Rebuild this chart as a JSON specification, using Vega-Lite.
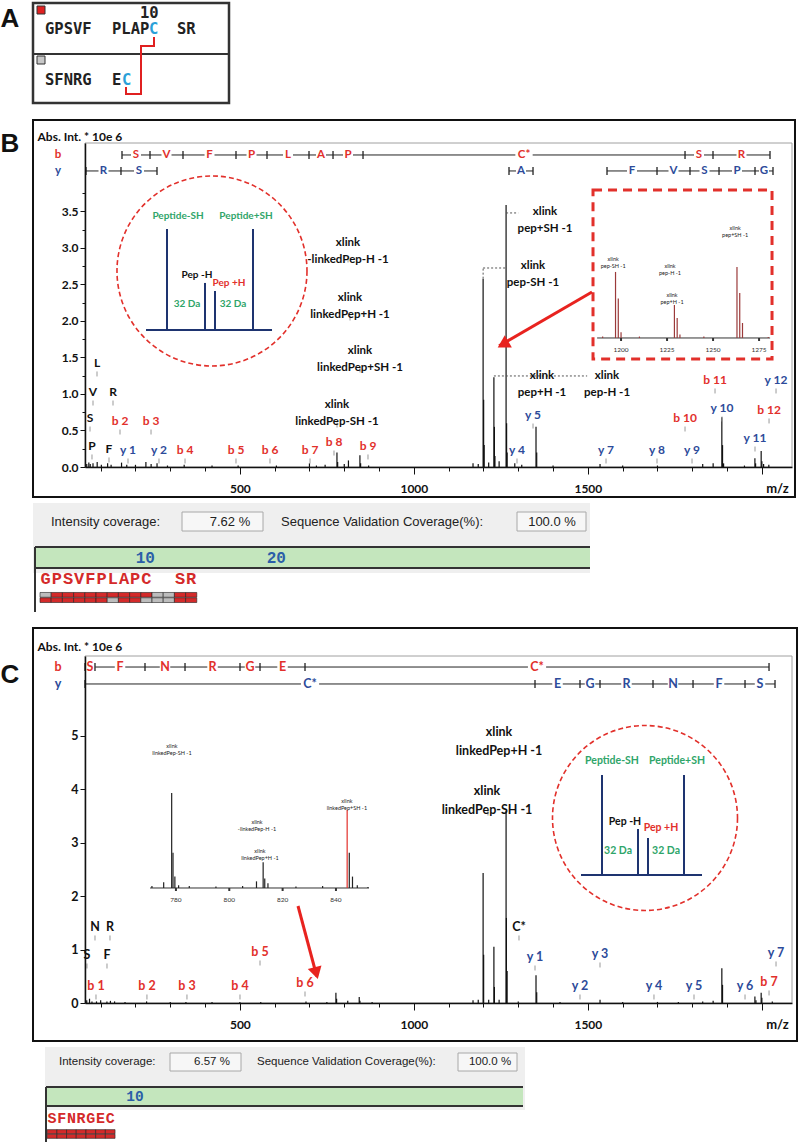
{
"$schema":"https://vega.github.io/schema/vega-lite/v6.json",
"padding":0,
"background":"white",
"spacing":0,
"bounds":"flush",
"resolve":{"scale":{"color":"independent","fill":"independent"}},
"config":{"view":{"stroke":null},"text":{"font":"Lato"}},
"datasets":{
"bPeaks":[{"mz":60,"int":0.04},{"mz":66,"int":0.06},{"mz":70,"int":0.04},{"mz":78,"int":0.05},{"mz":90,"int":0.07},{"mz":102,"int":0.03},{"mz":120,"int":0.05},{"mz":130,"int":0.03},{"mz":160,"int":0.06},{"mz":175,"int":0.03},{"mz":200,"int":0.03},{"mz":230,"int":0.07},{"mz":245,"int":0.04},{"mz":262,"int":0.05},{"mz":292,"int":0.02},{"mz":340,"int":0.03},{"mz":420,"int":0.02},{"mz":495,"int":0.02},{"mz":605,"int":0.02},{"mz":700,"int":0.05},{"mz":720,"int":0.02},{"mz":745,"int":0.03},{"mz":779,"int":0.2},{"mz":781,"int":0.07},{"mz":800,"int":0.04},{"mz":812,"int":0.09},{"mz":845,"int":0.16},{"mz":847,"int":0.05},{"mz":870,"int":0.02},{"mz":1170,"int":0.05},{"mz":1185,"int":0.04},{"mz":1199,"int":2.58},{"mz":1200.5,"int":0.92},{"mz":1202,"int":0.3},{"mz":1215,"int":0.06},{"mz":1230,"int":1.23},{"mz":1231.5,"int":0.55},{"mz":1233,"int":0.15},{"mz":1245,"int":0.08},{"mz":1265,"int":3.59},{"mz":1266.5,"int":0.6},{"mz":1268,"int":0.2},{"mz":1290,"int":0.05},{"mz":1310,"int":0.03},{"mz":1351,"int":0.55},{"mz":1353,"int":0.2},{"mz":1400,"int":0.02},{"mz":1535,"int":0.04},{"mz":1600,"int":0.02},{"mz":1700,"int":0.02},{"mz":1830,"int":0.04},{"mz":1860,"int":0.05},{"mz":1885,"int":0.68},{"mz":1887,"int":0.3},{"mz":1890,"int":0.05},{"mz":1950,"int":0.02},{"mz":1980,"int":0.12},{"mz":1982,"int":0.05},{"mz":1998,"int":0.22},{"mz":2000,"int":0.08},{"mz":2005,"int":0.04},{"mz":2020,"int":0.03}],
"cPeaks":[{"mz":60,"int":0.05},{"mz":68,"int":0.08},{"mz":75,"int":0.03},{"mz":88,"int":0.03},{"mz":100,"int":0.05},{"mz":118,"int":0.03},{"mz":128,"int":0.04},{"mz":140,"int":0.03},{"mz":170,"int":0.02},{"mz":232,"int":0.03},{"mz":300,"int":0.02},{"mz":345,"int":0.02},{"mz":420,"int":0.02},{"mz":500,"int":0.02},{"mz":560,"int":0.02},{"mz":690,"int":0.03},{"mz":750,"int":0.02},{"mz":776,"int":0.19},{"mz":778,"int":0.08},{"mz":810,"int":0.04},{"mz":843,"int":0.11},{"mz":845,"int":0.04},{"mz":880,"int":0.02},{"mz":1170,"int":0.05},{"mz":1185,"int":0.06},{"mz":1199,"int":2.43},{"mz":1200.5,"int":0.9},{"mz":1215,"int":0.06},{"mz":1230,"int":1.05},{"mz":1231.5,"int":0.3},{"mz":1245,"int":0.06},{"mz":1265,"int":3.59},{"mz":1266,"int":1.59},{"mz":1268,"int":0.6},{"mz":1300,"int":0.03},{"mz":1351,"int":0.52},{"mz":1353,"int":0.2},{"mz":1420,"int":0.02},{"mz":1535,"int":0.06},{"mz":1600,"int":0.02},{"mz":1700,"int":0.02},{"mz":1760,"int":0.02},{"mz":1830,"int":0.03},{"mz":1860,"int":0.04},{"mz":1885,"int":0.65},{"mz":1887,"int":0.34},{"mz":1980,"int":0.12},{"mz":1983,"int":0.05},{"mz":1998,"int":0.19},{"mz":2000,"int":0.1},{"mz":2030,"int":0.03}],
"bLadderLine":[{"mz":161.3,"mz2":2023.4,"int":4.274},{"mz":57.9,"mz2":261.9,"int":4.055},{"mz":1273.4,"mz2":1342.4,"int":4.055},{"mz":1555,"mz2":2032,"int":4.055}],
"bLadderTicks":[{"mz":161.3,"int":4.274},{"mz":241.8,"int":4.274},{"mz":336.6,"int":4.274},{"mz":488.9,"int":4.274},{"mz":578,"int":4.274},{"mz":698.7,"int":4.274},{"mz":767.7,"int":4.274},{"mz":853.9,"int":4.274},{"mz":1779.2,"int":4.274},{"mz":1859.6,"int":4.274},{"mz":2023.4,"int":4.274},{"mz":57.9,"int":4.055},{"mz":158.4,"int":4.055},{"mz":261.9,"int":4.055},{"mz":1273.4,"int":4.055},{"mz":1342.4,"int":4.055},{"mz":1555,"int":4.055},{"mz":1698.7,"int":4.055},{"mz":1793.5,"int":4.055},{"mz":1876.9,"int":4.055},{"mz":1980.3,"int":4.055},{"mz":2032,"int":4.055}],
"bLadderText":[{"mz":-22.6,"int":4.274,"text":"b","kind":"b"},{"mz":-22.6,"int":4.055,"text":"y","kind":"y"},{"mz":201.6,"int":4.274,"text":"S","kind":"b"},{"mz":289.2,"int":4.274,"text":"V","kind":"b"},{"mz":412.8,"int":4.274,"text":"F","kind":"b"},{"mz":533.5,"int":4.274,"text":"P","kind":"b"},{"mz":638.4,"int":4.274,"text":"L","kind":"b"},{"mz":733.2,"int":4.274,"text":"A","kind":"b"},{"mz":810.8,"int":4.274,"text":"P","kind":"b"},{"mz":1316.5,"int":4.274,"text":"C*","kind":"b"},{"mz":1819.4,"int":4.274,"text":"S","kind":"b"},{"mz":1941.5,"int":4.274,"text":"R","kind":"b"},{"mz":108.2,"int":4.055,"text":"R","kind":"y"},{"mz":210.2,"int":4.055,"text":"S","kind":"y"},{"mz":1307.9,"int":4.055,"text":"A","kind":"y"},{"mz":1626.9,"int":4.055,"text":"F","kind":"y"},{"mz":1746.1,"int":4.055,"text":"V","kind":"y"},{"mz":1835.2,"int":4.055,"text":"S","kind":"y"},{"mz":1928.6,"int":4.055,"text":"P","kind":"y"},{"mz":2006.2,"int":4.055,"text":"G","kind":"y"}],
"cLadderLine":[{"mz":55,"mz2":2020.6,"int":6.28},{"mz":55,"mz2":2037.8,"int":5.963}],
"cLadderTicks":[{"mz":55,"int":6.28},{"mz":83.7,"int":6.28},{"mz":227.4,"int":6.28},{"mz":342.4,"int":6.28},{"mz":500.4,"int":6.28},{"mz":557.9,"int":6.28},{"mz":687.2,"int":6.28},{"mz":2020.6,"int":6.28},{"mz":55,"int":5.963},{"mz":1348.1,"int":5.963},{"mz":1477.4,"int":5.963},{"mz":1534.9,"int":5.963},{"mz":1687.2,"int":5.963},{"mz":1802.2,"int":5.963},{"mz":1951.6,"int":5.963},{"mz":2037.8,"int":5.963}],
"cLadderText":[{"mz":-22.6,"int":6.28,"text":"b","kind":"b"},{"mz":-22.6,"int":5.963,"text":"y","kind":"y"},{"mz":69.4,"int":6.28,"text":"S","kind":"b"},{"mz":155.6,"int":6.28,"text":"F","kind":"b"},{"mz":284.9,"int":6.28,"text":"N","kind":"b"},{"mz":421.4,"int":6.28,"text":"R","kind":"b"},{"mz":529.2,"int":6.28,"text":"G","kind":"b"},{"mz":622.6,"int":6.28,"text":"E","kind":"b"},{"mz":1353.9,"int":6.28,"text":"C*","kind":"b"},{"mz":701.6,"int":5.963,"text":"C*","kind":"y"},{"mz":1412.8,"int":5.963,"text":"E","kind":"y"},{"mz":1506.2,"int":5.963,"text":"G","kind":"y"},{"mz":1611,"int":5.963,"text":"R","kind":"y"},{"mz":1744.7,"int":5.963,"text":"N","kind":"y"},{"mz":1876.9,"int":5.963,"text":"F","kind":"y"},{"mz":1994.7,"int":5.963,"text":"S","kind":"y"}],
"bIons":[{"mz":89.5,"int":1.425,"text":"L","kind":"imm"},{"mz":78,"int":1.027,"text":"V","kind":"imm"},{"mz":135.5,"int":1.027,"text":"R","kind":"imm"},{"mz":69.4,"int":0.671,"text":"S","kind":"imm"},{"mz":75.1,"int":0.288,"text":"P","kind":"imm"},{"mz":124,"int":0.247,"text":"F","kind":"imm"},{"mz":155.6,"int":0.63,"text":"b 2","kind":"b"},{"mz":244.7,"int":0.63,"text":"b 3","kind":"b"},{"mz":342.4,"int":0.233,"text":"b 4","kind":"b"},{"mz":488.9,"int":0.233,"text":"b 5","kind":"b"},{"mz":586.6,"int":0.233,"text":"b 6","kind":"b"},{"mz":701.6,"int":0.233,"text":"b 7","kind":"b"},{"mz":770.5,"int":0.342,"text":"b 8","kind":"b"},{"mz":868.2,"int":0.288,"text":"b 9","kind":"b"},{"mz":1779.2,"int":0.671,"text":"b 10","kind":"b"},{"mz":1865.4,"int":1.192,"text":"b 11","kind":"b"},{"mz":2020.6,"int":0.781,"text":"b 12","kind":"b"},{"mz":178.6,"int":0.233,"text":"y 1","kind":"y"},{"mz":267.6,"int":0.233,"text":"y 2","kind":"y"},{"mz":1296.4,"int":0.233,"text":"y 4","kind":"y"},{"mz":1342.4,"int":0.712,"text":"y 5","kind":"y"},{"mz":1552.2,"int":0.233,"text":"y 7","kind":"y"},{"mz":1698.7,"int":0.233,"text":"y 8","kind":"y"},{"mz":1799.3,"int":0.233,"text":"y 9","kind":"y"},{"mz":1885.5,"int":0.808,"text":"y 10","kind":"y"},{"mz":1980.3,"int":0.397,"text":"y 11","kind":"y"},{"mz":2040.7,"int":1.192,"text":"y 12","kind":"y"}],
"cIons":[{"mz":60.7,"int":0.897,"text":"S","kind":"imm"},{"mz":83.7,"int":1.421,"text":"N","kind":"imm"},{"mz":126.8,"int":1.421,"text":"R","kind":"imm"},{"mz":118.2,"int":0.897,"text":"F","kind":"imm"},{"mz":1302.1,"int":1.421,"text":"C*","kind":"imm"},{"mz":86.6,"int":0.318,"text":"b 1","kind":"b"},{"mz":233,"int":0.318,"text":"b 2","kind":"b"},{"mz":348,"int":0.318,"text":"b 3","kind":"b"},{"mz":500.4,"int":0.318,"text":"b 4","kind":"b"},{"mz":557.9,"int":0.953,"text":"b 5","kind":"b"},{"mz":687.2,"int":0.374,"text":"b 6","kind":"b"},{"mz":2020.6,"int":0.393,"text":"b 7","kind":"b"},{"mz":1348.1,"int":0.86,"text":"y 1","kind":"y"},{"mz":1477.4,"int":0.318,"text":"y 2","kind":"y"},{"mz":1534.9,"int":0.916,"text":"y 3","kind":"y"},{"mz":1690,"int":0.318,"text":"y 4","kind":"y"},{"mz":1805,"int":0.318,"text":"y 5","kind":"y"},{"mz":1951.6,"int":0.318,"text":"y 6","kind":"y"},{"mz":2040.7,"int":0.935,"text":"y 7","kind":"y"}],
"bXlink":[{"mz":810.8,"int":3.068,"text":"xlink\n-linkedPep-H -1"},{"mz":816.5,"int":2.315,"text":"xlink\nlinkedPep+H -1"},{"mz":845.3,"int":1.589,"text":"xlink\nlinkedPep+SH -1"},{"mz":779.2,"int":0.849,"text":"xlink\nlinkedPep-SH -1"},{"mz":1376.9,"int":3.493,"text":"xlink\npep+SH -1"},{"mz":1342.4,"int":2.753,"text":"xlink\npep-SH -1"},{"mz":1368.3,"int":1.247,"text":"xlink\npep+H -1"},{"mz":1555,"int":1.247,"text":"xlink\npep-H -1"}],
"bInsetTicks":[{"mz":1200,"int":0,"text":"1200"},{"mz":1225,"int":0,"text":"1225"},{"mz":1250,"int":0,"text":"1250"},{"mz":1275,"int":0,"text":"1275"}],
"cInsetTicks":[{"mz":780,"int":0,"text":"780"},{"mz":800,"int":0,"text":"800"},{"mz":820,"int":0,"text":"820"},{"mz":840,"int":0,"text":"840"}],
"bResidues":[{"res":1,"aa":"G","top":"miss","bottom":"hit"},{"res":2,"aa":"P","top":"hit","bottom":"hit"},{"res":3,"aa":"S","top":"hit","bottom":"hit"},{"res":4,"aa":"V","top":"hit","bottom":"hit"},{"res":5,"aa":"F","top":"hit","bottom":"hit"},{"res":6,"aa":"P","top":"hit","bottom":"hit"},{"res":7,"aa":"L","top":"hit","bottom":"miss"},{"res":8,"aa":"A","top":"hit","bottom":"hit"},{"res":9,"aa":"P","top":"hit","bottom":"hit"},{"res":10,"aa":"C","top":"hit","bottom":"miss"},{"res":11,"aa":"","top":"miss","bottom":"miss"},{"res":12,"aa":"","top":"miss","bottom":"miss"},{"res":13,"aa":"S","top":"hit","bottom":"hit"},{"res":14,"aa":"R","top":"hit","bottom":"hit"}],
"cResidues":[{"res":1,"aa":"S","top":"hit","bottom":"hit"},{"res":2,"aa":"F","top":"hit","bottom":"hit"},{"res":3,"aa":"N","top":"hit","bottom":"hit"},{"res":4,"aa":"R","top":"hit","bottom":"hit"},{"res":5,"aa":"G","top":"hit","bottom":"hit"},{"res":6,"aa":"E","top":"hit","bottom":"hit"},{"res":7,"aa":"C","top":"hit","bottom":"hit"}]
},
"vconcat":[
{
"width":707,"height":143,
"encoding":{
"x":{"field":"x","type":"quantitative","scale":{"domain":[85,792],"nice":false,"zero":false},"axis":null},
"y":{"field":"y","type":"quantitative","scale":{"domain":[0,143],"reverse":true,"nice":false,"zero":false},"axis":null}
},
"layer":[
{"data":{"values":[{"x":0,"x2":800,"y":0,"y2":1142}]},"mark":{"type":"rect","fill":"white"},"encoding":{"x2":{"field":"x2"},"y2":{"field":"y2"}}},
{"data":{"values":[{"x":10,"y":19,"text":"A"}]},"mark":{"type":"text","font":"Liberation Sans","fontWeight":"bold","fontSize":26,"fill":"#111"},"encoding":{"text":{"field":"text"}}},
{"data":{"values":[{"x":33,"x2":229,"y":3,"y2":103}]},"mark":{"type":"rect","filled":false,"stroke":"#333","strokeWidth":2.5},"encoding":{"x2":{"field":"x2"},"y2":{"field":"y2"}}},
{"data":{"values":[{"x":33,"x2":229,"y":54}]},"mark":{"type":"rule","stroke":"#333","strokeWidth":2},"encoding":{"x2":{"field":"x2"}}},
{"data":{"values":[{"x":37,"x2":45,"y":6,"y2":14,"chain":"peptide 1"},{"x":37,"x2":45,"y":56,"y2":64,"chain":"peptide 2"}]},"mark":{"type":"rect","stroke":"#333","strokeWidth":1},"encoding":{"x2":{"field":"x2"},"y2":{"field":"y2"},"fill":{"field":"chain","type":"nominal","scale":{"domain":["peptide 1","peptide 2"],"range":["#e02020","#c8c8c8"]},"legend":null}}},
{"data":{"values":[{"x":45,"y":29,"text":"GPSVF","kind":"residue"},{"x":112,"y":29,"text":"PLAP","kind":"residue"},{"x":149,"y":29,"text":"C","kind":"crosslink"},{"x":177,"y":29,"text":"SR","kind":"residue"},{"x":45,"y":80,"text":"SFNRG","kind":"residue"},{"x":112,"y":80,"text":"E","kind":"residue"},{"x":122,"y":80,"text":"C","kind":"crosslink"},{"x":140,"y":13,"text":"10","kind":"residue"}]},"mark":{"type":"text","align":"left","font":"DejaVu Sans Mono","fontWeight":"bold","fontSize":15.5},"encoding":{"text":{"field":"text"},"color":{"field":"kind","type":"nominal","scale":{"domain":["residue","crosslink"],"range":["#222222","#2aa0d8"]},"legend":null}}},
{"data":{"values":[{"x":154,"y":37,"o":1},{"x":154,"y":46,"o":2},{"x":141,"y":46,"o":3},{"x":141,"y":94,"o":4},{"x":126,"y":94,"o":5},{"x":126,"y":87,"o":6}]},"mark":{"type":"line","stroke":"#e02020","strokeWidth":2},"encoding":{"order":{"field":"o","type":"quantitative"}}}
]
},
{
"width":707,"height":324,
"resolve":{"scale":{"x":"independent","y":"independent"}},
"layer":[
{
"encoding":{
"x":{"field":"mz","type":"quantitative","scale":{"domain":[55,2086.6],"nice":false,"zero":false},"axis":{"values":[100,200,300,400,500,600,700,800,900,1000,1100,1200,1300,1400,1500,1600,1700,1800,1900,2000],"format":"d","labelExpr":"datum.value % 500 === 0 && datum.value < 2000 ? datum.label : ''","tickSize":{"condition":{"test":"datum.value % 500 === 0","value":7},"value":4},"labelPadding":9,"labelFont":"Lato","labelFontSize":12,"labelFontWeight":"bold","labelColor":"#111","labelOverlap":false,"labelFlush":false,"domainColor":"#111","domainWidth":1.5,"tickColor":"#111","grid":false,"zindex":1,"title":"m/z","titleX":692,"titleY":21,"titleAlign":"center","titleBaseline":"middle","titleFont":"Lato","titleFontSize":13,"titleFontWeight":"bold","titleColor":"#111"}},
"y":{"field":"int","type":"quantitative","scale":{"domain":[0,4.438],"nice":false,"zero":false},"axis":{"values":[0,0.25,0.5,0.75,1,1.25,1.5,1.75,2,2.25,2.5,2.75,3,3.25,3.5,3.75],"format":".1f","labelExpr":"(datum.value * 2) % 1 === 0 && datum.value <= 3.5 ? datum.label : ''","tickSize":{"condition":{"test":"(datum.value * 2) % 1 === 0","value":5},"value":3},"labelPadding":2,"labelFont":"Lato","labelFontSize":12,"labelFontWeight":"bold","labelColor":"#111","labelOverlap":false,"labelFlush":false,"domainColor":"#111","domainWidth":1.5,"tickColor":"#111","grid":false,"zindex":1,"title":"Abs. Int. * 10e 6","titleAngle":0,"titleX":-48,"titleY":-7,"titleAlign":"left","titleBaseline":"middle","titleFont":"Lato","titleFontSize":12,"titleFontWeight":"bold","titleColor":"#111"}}
},
"layer":[
{"data":{"values":[{"mz":-94.4,"mz2":2095.2,"int":4.753,"int2":-0.411}]},"mark":{"type":"rect","filled":false,"stroke":"#111","strokeWidth":2},"encoding":{"x2":{"field":"mz2"},"y2":{"field":"int2"}}},
{"data":{"values":[{"mz":55,"mz2":2086.6,"int":0,"int2":4.438}]},"mark":{"type":"rect","filled":false,"stroke":"#a0a0a0","strokeWidth":1},"encoding":{"x2":{"field":"mz2"},"y2":{"field":"int2"}}},
{"data":{"values":[{"mz":-160.5,"int":4.425,"text":"B"}]},"mark":{"type":"text","font":"Liberation Sans","fontWeight":"bold","fontSize":26,"fill":"#111"},"encoding":{"text":{"field":"text"}}},
{"data":{"values":[{"mz":1514.8,"mz2":2029.2,"int":1.479,"int2":3.795}]},"mark":{"type":"rect","filled":false,"stroke":"#e2302b","strokeWidth":3,"strokeDash":[9,6]},"encoding":{"x2":{"field":"mz2"},"y2":{"field":"int2"}}},
{"data":{"values":[{"mz":419.9,"int":2.685}]},"mark":{"type":"point","shape":"circle","size":36100,"filled":false,"stroke":"#e2302b","strokeWidth":1.6,"strokeDash":[5,3],"opacity":1}},
{"data":{"values":[{"mz":230.3,"mz2":592.4,"int":1.877,"int2":1.877},{"mz":290.6,"mz2":290.6,"int":1.877,"int2":3.26},{"mz":537.8,"mz2":537.8,"int":1.877,"int2":3.26},{"mz":399.8,"mz2":399.8,"int":1.877,"int2":2.521},{"mz":428.6,"mz2":428.6,"int":1.877,"int2":2.411}]},"mark":{"type":"rule","stroke":"#1e3470","strokeWidth":2},"encoding":{"x2":{"field":"mz2"},"y2":{"field":"int2"}}},
{"data":{"values":[{"mz":322.3,"int":3.438,"text":"Peptide-SH","kind":"SH"},{"mz":517.7,"int":3.438,"text":"Peptide+SH","kind":"SH"},{"mz":376.8,"int":2.63,"text":"Pep -H","kind":"pep-H"},{"mz":468.8,"int":2.521,"text":"Pep +H","kind":"pep+H"},{"mz":348.1,"int":2.233,"text":"32 Da","kind":"SH"},{"mz":480.3,"int":2.233,"text":"32 Da","kind":"SH"}]},"mark":{"type":"text","font":"Lato","fontWeight":"bold","fontSize":10},"encoding":{"text":{"field":"text"},"color":{"field":"kind","type":"nominal","scale":{"domain":["b","y","imm","xlink","SH","pep-H","pep+H"],"range":["#e2302b","#2d4b9a","#111111","#111111","#2fa56a","#111111","#e2302b"]},"legend":null}}},
{"data":{"name":"bLadderLine"},"mark":{"type":"rule","stroke":"#222","strokeWidth":1},"encoding":{"x2":{"field":"mz2"}}},
{"data":{"name":"bLadderText"},"mark":{"type":"point","shape":"square","filled":true,"fill":"white","opacity":1},"encoding":{"size":{"condition":{"test":"datum.text === 'C*'","value":300},"value":100}}},
{"data":{"name":"bLadderTicks"},"mark":{"type":"point","shape":"M0,-1L0,1","filled":false,"stroke":"#222","strokeWidth":1.3,"size":64,"opacity":1}},
{"data":{"name":"bLadderText"},"mark":{"type":"text","font":"Lato","fontWeight":"bold","fontSize":11.5},"encoding":{"text":{"field":"text"},"color":{"field":"kind","type":"nominal","scale":{"domain":["b","y","imm","xlink","SH","pep-H","pep+H"],"range":["#e2302b","#2d4b9a","#111111","#111111","#2fa56a","#111111","#e2302b"]},"legend":null}}},
{"data":{"name":"bPeaks"},"mark":{"type":"rule","stroke":"#111","strokeWidth":1.2},"encoding":{"y2":{"datum":0}}},
{"data":{"values":[{"mz":1199,"mz2":1199,"int":2.58,"int2":2.726},{"mz":1199,"mz2":1265,"int":2.726,"int2":2.726},{"mz":1265,"mz2":1300,"int":3.48,"int2":3.48},{"mz":1230,"mz2":1498,"int":1.247,"int2":1.247}]},"mark":{"type":"rule","stroke":"#555","strokeWidth":1,"strokeDash":[2,2]},"encoding":{"x2":{"field":"mz2"},"y2":{"field":"int2"}}},
{"data":{"name":"bIons"},"mark":{"type":"point","shape":"M0,-1L0,1","filled":false,"stroke":"#999","strokeWidth":1,"size":25,"yOffset":11,"opacity":1}},
{"data":{"name":"bIons"},"mark":{"type":"text","font":"Lato","fontWeight":"bold","fontSize":12},"encoding":{"text":{"field":"text"},"color":{"field":"kind","type":"nominal","scale":{"domain":["b","y","imm","xlink","SH","pep-H","pep+H"],"range":["#e2302b","#2d4b9a","#111111","#111111","#2fa56a","#111111","#e2302b"]},"legend":null}}},
{"data":{"values":[{"mz":810.8,"int":2.836},{"mz":816.5,"int":2.041},{"mz":845.3,"int":1.329},{"mz":779.2,"int":0.575}]},"mark":{"type":"point","shape":"M0,-1L0,1","filled":false,"stroke":"#999","strokeWidth":1,"size":25,"opacity":1}},
{"data":{"name":"bXlink"},"mark":{"type":"text","font":"Lato","fontWeight":"bold","fontSize":11.5,"fill":"#111","lineBreak":"\n","lineHeight":17},"encoding":{"text":{"field":"text"}}},
{"data":{"values":[{"mz":1511.9,"mz2":1245,"int":2.397,"int2":1.66}]},"mark":{"type":"rule","stroke":"#e8231f","strokeWidth":3},"encoding":{"x2":{"field":"mz2"},"y2":{"field":"int2"}}},
{"data":{"values":[{"mz":1256.2,"int":1.678}]},"mark":{"type":"point","shape":"triangle-up","filled":true,"fill":"#e8231f","size":200,"angle":240,"opacity":1}}
]
},
{
"encoding":{
"x":{"field":"mz","type":"quantitative","scale":{"domain":[908.7,1292.9],"nice":false,"zero":false},"axis":null},
"y":{"field":"int","type":"quantitative","scale":{"domain":[-179.2,270.8],"nice":false,"zero":false},"axis":null}
},
"layer":[
{"data":{"values":[{"mz":1187,"mz2":1281,"int":0}]},"mark":{"type":"rule","stroke":"#333","strokeWidth":1},"encoding":{"x2":{"field":"mz2"}}},
{"data":{"name":"bInsetTicks"},"mark":{"type":"point","shape":"M0,0L0,1","filled":false,"stroke":"#333","size":36,"opacity":1}},
{"data":{"name":"bInsetTicks"},"mark":{"type":"text","font":"Lato","fontSize":6.5,"dy":12,"fill":"#333"},"encoding":{"text":{"field":"text"}}},
{"data":{"values":[{"mz":1190,"int":2},{"mz":1197,"int":91.7},{"mz":1198.5,"int":55},{"mz":1200,"int":8},{"mz":1210,"int":2},{"mz":1229,"int":45.8},{"mz":1230.5,"int":27.8},{"mz":1232,"int":5},{"mz":1245,"int":2},{"mz":1263,"int":98.6},{"mz":1264.5,"int":62.5},{"mz":1266,"int":20.8},{"mz":1280,"int":1.5}]},"mark":{"type":"rule","stroke":"#9b3a3a","strokeWidth":1.2},"encoding":{"y2":{"datum":0}}},
{"data":{"values":[{"mz":1195.7,"int":109.7,"text":"xlink\npep-SH -1"},{"mz":1226.6,"int":100,"text":"xlink\npep-H -1"},{"mz":1227.7,"int":59.7,"text":"xlink\npep+H -1"},{"mz":1262,"int":152.8,"text":"xlink\npep+SH -1"}]},"mark":{"type":"text","font":"Lato","fontSize":5.5,"fill":"#222","lineBreak":"\n","lineHeight":7},"encoding":{"text":{"field":"text"}}}
]
}
]
},
{
"width":707,"height":189,
"resolve":{"scale":{"x":"independent"}},
"layer":[
{
"encoding":{
"x":{"field":"x","type":"quantitative","scale":{"domain":[85,792],"nice":false,"zero":false},"axis":null},
"y":{"field":"y","type":"quantitative","scale":{"domain":[467,656],"reverse":true,"nice":false,"zero":false},"axis":null}
},
"layer":[
{"data":{"values":[{"x":33,"x2":590,"y":503,"y2":573}]},"mark":{"type":"rect","fill":"#efefef"},"encoding":{"x2":{"field":"x2"},"y2":{"field":"y2"}}},
{"data":{"values":[{"x":182,"x2":263,"y":512,"y2":531},{"x":517,"x2":586,"y":512,"y2":531}]},"mark":{"type":"rect","fill":"#f7f7f7","stroke":"#a8a8a8","strokeWidth":1},"encoding":{"x2":{"field":"x2"},"y2":{"field":"y2"}}},
{"data":{"values":[{"x":51,"y":522,"text":"Intensity coverage:"},{"x":281,"y":522,"text":"Sequence Validation Coverage(%):"}]},"mark":{"type":"text","align":"left","font":"Liberation Sans","fontSize":13,"fill":"#222"},"encoding":{"text":{"field":"text"}}},
{"data":{"values":[{"x":230,"y":522,"text":"7.62 %"},{"x":552,"y":522,"text":"100.0 %"}]},"mark":{"type":"text","align":"center","font":"Liberation Sans","fontSize":13,"fill":"#222"},"encoding":{"text":{"field":"text"}}},
{"data":{"values":[{"x":35,"x2":590,"y":547,"y2":568}]},"mark":{"type":"rect","fill":"#c4e6bd"},"encoding":{"x2":{"field":"x2"},"y2":{"field":"y2"}}},
{"data":{"values":[{"x":35,"x2":590,"y":547},{"x":35,"x2":590,"y":568}]},"mark":{"type":"rule","stroke":"#333","strokeWidth":2},"encoding":{"x2":{"field":"x2"}}},
{"data":{"values":[{"x":35,"y":547,"y2":612}]},"mark":{"type":"rule","stroke":"#333","strokeWidth":2},"encoding":{"y2":{"field":"y2"}}}
]
},
{
"encoding":{
"x":{"field":"res","type":"quantitative","scale":{"domain":[4.518,67.64],"nice":false,"zero":false},"axis":null}
},
"layer":[
{"data":{"values":[{"res":9.9,"text":"10"},{"res":21.6,"text":"20"}]},"mark":{"type":"text","font":"Liberation Mono","fontWeight":"bold","fontSize":16,"fill":"#2b5ea8"},"encoding":{"text":{"field":"text"},"y":{"datum":557.5,"type":"quantitative","scale":{"domain":[467,656],"reverse":true,"nice":false,"zero":false},"axis":null}}},
{"data":{"name":"bResidues"},"mark":{"type":"text","font":"Liberation Mono","fontWeight":"bold","fontSize":17,"fill":"#d42a2a"},"encoding":{"text":{"field":"aa"},"y":{"datum":579,"type":"quantitative","scale":{"domain":[467,656],"reverse":true,"nice":false,"zero":false},"axis":null}}},
{"data":{"name":"bResidues"},"mark":{"type":"point","shape":"M-1,-0.9H1V-0.05H-1Z","filled":true,"stroke":"#222","strokeWidth":0.6,"size":125,"opacity":1},"encoding":{"y":{"datum":597.5,"type":"quantitative","scale":{"domain":[467,656],"reverse":true,"nice":false,"zero":false},"axis":null},"fill":{"field":"top","type":"nominal","scale":{"domain":["hit","miss"],"range":["#d42a2a","#bdbdbd"]},"legend":null}}},
{"data":{"name":"bResidues"},"mark":{"type":"point","shape":"M-1,0.05H1V0.9H-1Z","filled":true,"stroke":"#222","strokeWidth":0.6,"size":125,"opacity":1},"encoding":{"y":{"datum":597.5,"type":"quantitative","scale":{"domain":[467,656],"reverse":true,"nice":false,"zero":false},"axis":null},"fill":{"field":"bottom","type":"nominal","scale":{"domain":["hit","miss"],"range":["#d42a2a","#bdbdbd"]},"legend":null}}}
]
}
]
},
{
"width":707,"height":347,
"resolve":{"scale":{"x":"independent","y":"independent"}},
"layer":[
{
"encoding":{
"x":{"field":"mz","type":"quantitative","scale":{"domain":[55,2086.6],"nice":false,"zero":false},"axis":{"values":[100,200,300,400,500,600,700,800,900,1000,1100,1200,1300,1400,1500,1600,1700,1800,1900,2000],"format":"d","labelExpr":"datum.value % 500 === 0 && datum.value < 2000 ? datum.label : ''","tickSize":{"condition":{"test":"datum.value % 500 === 0","value":7},"value":4},"labelPadding":9,"labelFont":"Lato","labelFontSize":12,"labelFontWeight":"bold","labelColor":"#111","labelOverlap":false,"labelFlush":false,"domainColor":"#111","domainWidth":1.5,"tickColor":"#111","grid":false,"zindex":1,"title":"m/z","titleX":692,"titleY":21,"titleAlign":"center","titleBaseline":"middle","titleFont":"Lato","titleFontSize":13,"titleFontWeight":"bold","titleColor":"#111"}},
"y":{"field":"int","type":"quantitative","scale":{"domain":[0,6.486],"nice":false,"zero":false},"axis":{"values":[0,0.5,1,1.5,2,2.5,3,3.5,4,4.5,5,5.5],"format":"d","labelExpr":"datum.value % 1 === 0 && datum.value <= 5 ? datum.label : ''","tickSize":{"condition":{"test":"datum.value % 1 === 0","value":5},"value":3},"labelPadding":2,"labelFont":"Lato","labelFontSize":12.5,"labelFontWeight":"bold","labelColor":"#111","labelOverlap":false,"labelFlush":false,"domainColor":"#111","domainWidth":1.5,"tickColor":"#111","grid":false,"zindex":1,"title":"Abs. Int. * 10e 6","titleAngle":0,"titleX":-48,"titleY":-10,"titleAlign":"left","titleBaseline":"middle","titleFont":"Lato","titleFontSize":12,"titleFontWeight":"bold","titleColor":"#111"}}
},
"layer":[
{"data":{"values":[{"mz":-94.4,"mz2":2101,"int":7.009,"int2":-0.71}]},"mark":{"type":"rect","filled":false,"stroke":"#111","strokeWidth":2},"encoding":{"x2":{"field":"mz2"},"y2":{"field":"int2"}}},
{"data":{"values":[{"mz":55,"mz2":2086.6,"int":0,"int2":6.486}]},"mark":{"type":"rect","filled":false,"stroke":"#a0a0a0","strokeWidth":1},"encoding":{"x2":{"field":"mz2"},"y2":{"field":"int2"}}},
{"data":{"values":[{"mz":-160.5,"int":6.131,"text":"C"}]},"mark":{"type":"text","font":"Liberation Sans","fontWeight":"bold","fontSize":26,"fill":"#111"},"encoding":{"text":{"field":"text"}}},
{"data":{"values":[{"mz":1664.2,"int":3.458}]},"mark":{"type":"point","shape":"circle","size":34225,"filled":false,"stroke":"#e2302b","strokeWidth":1.6,"strokeDash":[5,3],"opacity":1}},
{"data":{"values":[{"mz":1480.3,"mz2":1828,"int":2.393,"int2":2.393},{"mz":1540.6,"mz2":1540.6,"int":2.393,"int2":4.262},{"mz":1776.2,"mz2":1776.2,"int":2.393,"int2":4.262},{"mz":1644.1,"mz2":1644.1,"int":2.393,"int2":3.252},{"mz":1672.8,"mz2":1672.8,"int":2.393,"int2":3.084}]},"mark":{"type":"rule","stroke":"#1e3470","strokeWidth":2},"encoding":{"x2":{"field":"mz2"},"y2":{"field":"int2"}}},
{"data":{"values":[{"mz":1569.4,"int":4.523,"text":"Peptide-SH","kind":"SH"},{"mz":1756.2,"int":4.523,"text":"Peptide+SH","kind":"SH"},{"mz":1606.7,"int":3.383,"text":"Pep -H","kind":"pep-H"},{"mz":1710.2,"int":3.271,"text":"Pep +H","kind":"pep+H"},{"mz":1586.6,"int":2.841,"text":"32 Da","kind":"SH"},{"mz":1724.6,"int":2.841,"text":"32 Da","kind":"SH"}]},"mark":{"type":"text","font":"Lato","fontWeight":"bold","fontSize":10.5},"encoding":{"text":{"field":"text"},"color":{"field":"kind","type":"nominal","scale":{"domain":["b","y","imm","xlink","SH","pep-H","pep+H"],"range":["#e2302b","#2d4b9a","#111111","#111111","#2fa56a","#111111","#e2302b"]},"legend":null}}},
{"data":{"name":"cLadderLine"},"mark":{"type":"rule","stroke":"#222","strokeWidth":1},"encoding":{"x2":{"field":"mz2"}}},
{"data":{"name":"cLadderText"},"mark":{"type":"point","shape":"square","filled":true,"fill":"white","opacity":1},"encoding":{"size":{"condition":{"test":"datum.text === 'C*'","value":330},"value":110}}},
{"data":{"name":"cLadderTicks"},"mark":{"type":"point","shape":"M0,-1L0,1","filled":false,"stroke":"#222","strokeWidth":1.3,"size":64,"opacity":1}},
{"data":{"name":"cLadderText"},"mark":{"type":"text","font":"Lato","fontWeight":"bold","fontSize":12.5},"encoding":{"text":{"field":"text"},"color":{"field":"kind","type":"nominal","scale":{"domain":["b","y","imm","xlink","SH","pep-H","pep+H"],"range":["#e2302b","#2d4b9a","#111111","#111111","#2fa56a","#111111","#e2302b"]},"legend":null}}},
{"data":{"name":"cPeaks"},"mark":{"type":"rule","stroke":"#111","strokeWidth":1.2},"encoding":{"y2":{"datum":0}}},
{"data":{"name":"cIons"},"mark":{"type":"point","shape":"M0,-1L0,1","filled":false,"stroke":"#999","strokeWidth":1,"size":25,"yOffset":11,"opacity":1}},
{"data":{"name":"cIons"},"mark":{"type":"text","font":"Lato","fontWeight":"bold","fontSize":12.5},"encoding":{"text":{"field":"text"},"color":{"field":"kind","type":"nominal","scale":{"domain":["b","y","imm","xlink","SH","pep-H","pep+H"],"range":["#e2302b","#2d4b9a","#111111","#111111","#2fa56a","#111111","#e2302b"]},"legend":null}}},
{"data":{"values":[{"mz":1244.7,"int":4.692},{"mz":1213,"int":3.551}]},"mark":{"type":"point","shape":"M0,-1L0,1","filled":false,"stroke":"#999","strokeWidth":1,"size":25,"opacity":1}},
{"data":{"values":[{"mz":1244.7,"int":5.065,"text":"xlink\nlinkedPep+H -1"},{"mz":1210.2,"int":3.963,"text":"xlink\nlinkedPep-SH -1"}]},"mark":{"type":"text","font":"Lato","fontWeight":"bold","fontSize":12.5,"fill":"#111","lineBreak":"\n","lineHeight":19},"encoding":{"text":{"field":"text"}}},
{"data":{"values":[{"mz":667.1,"mz2":721,"int":1.813,"int2":0.5}]},"mark":{"type":"rule","stroke":"#e8231f","strokeWidth":3},"encoding":{"x2":{"field":"mz2"},"y2":{"field":"int2"}}},
{"data":{"values":[{"mz":719.4,"int":0.557}]},"mark":{"type":"point","shape":"triangle-up","filled":true,"fill":"#e8231f","size":200,"angle":165,"opacity":1}}
]
},
{
"encoding":{
"x":{"field":"mz","type":"quantitative","scale":{"domain":[745.9,1011],"nice":false,"zero":false},"axis":null},
"y":{"field":"int","type":"quantitative","scale":{"domain":[-121.05,244.2],"nice":false,"zero":false},"axis":null}
},
"layer":[
{"data":{"values":[{"mz":770.3,"mz2":852.4,"int":0}]},"mark":{"type":"rule","stroke":"#333","strokeWidth":1},"encoding":{"x2":{"field":"mz2"}}},
{"data":{"name":"cInsetTicks"},"mark":{"type":"point","shape":"M0,0L0,1","filled":false,"stroke":"#333","size":36,"opacity":1}},
{"data":{"name":"cInsetTicks"},"mark":{"type":"text","font":"Lato","fontSize":6.5,"dy":12,"fill":"#333"},"encoding":{"text":{"field":"text"}}},
{"data":{"values":[{"mz":771,"int":2},{"mz":775.4,"int":6},{"mz":778.4,"int":100},{"mz":778.9,"int":37},{"mz":779.6,"int":12},{"mz":781,"int":3},{"mz":785,"int":2},{"mz":795,"int":1.5},{"mz":805,"int":2},{"mz":810.2,"int":7},{"mz":812.7,"int":27},{"mz":813.3,"int":10},{"mz":814.5,"int":5},{"mz":825,"int":1.5},{"mz":835,"int":2},{"mz":844.2,"int":82},{"mz":845,"int":37},{"mz":846.2,"int":12},{"mz":848,"int":3},{"mz":852,"int":1}]},"mark":{"type":"rule","strokeWidth":1.2},"encoding":{"y2":{"datum":0},"stroke":{"condition":{"test":"datum.mz === 844.2","value":"#e2302b"},"value":"#222"}}},
{"data":{"values":[{"mz":778.5,"int":149.5,"text":"xlink\nlinkedPep-SH -1"},{"mz":810.4,"int":69.5,"text":"xlink\n-linkedPep-H -1"},{"mz":811.5,"int":38.9,"text":"xlink\nlinkedPep+H -1"},{"mz":844.1,"int":91.6,"text":"xlink\nlinkedPep+SH -1"}]},"mark":{"type":"text","font":"Lato","fontSize":5.5,"fill":"#222","lineBreak":"\n","lineHeight":7},"encoding":{"text":{"field":"text"}}}
]
}
]
},
{
"width":707,"height":139,
"resolve":{"scale":{"x":"independent"}},
"layer":[
{
"encoding":{
"x":{"field":"x","type":"quantitative","scale":{"domain":[85,792],"nice":false,"zero":false},"axis":null},
"y":{"field":"y","type":"quantitative","scale":{"domain":[1003,1142],"reverse":true,"nice":false,"zero":false},"axis":null}
},
"layer":[
{"data":{"values":[{"x":45,"x2":525,"y":1047,"y2":1110}]},"mark":{"type":"rect","fill":"#efefef"},"encoding":{"x2":{"field":"x2"},"y2":{"field":"y2"}}},
{"data":{"values":[{"x":170,"x2":241,"y":1053,"y2":1071},{"x":458,"x2":517,"y":1053,"y2":1071}]},"mark":{"type":"rect","fill":"#f7f7f7","stroke":"#a8a8a8","strokeWidth":1},"encoding":{"x2":{"field":"x2"},"y2":{"field":"y2"}}},
{"data":{"values":[{"x":59,"y":1062,"text":"Intensity coverage:"},{"x":257,"y":1062,"text":"Sequence Validation Coverage(%):"}]},"mark":{"type":"text","align":"left","font":"Liberation Sans","fontSize":11.5,"fill":"#222"},"encoding":{"text":{"field":"text"}}},
{"data":{"values":[{"x":212,"y":1062,"text":"6.57 %"},{"x":490,"y":1062,"text":"100.0 %"}]},"mark":{"type":"text","align":"center","font":"Liberation Sans","fontSize":11.5,"fill":"#222"},"encoding":{"text":{"field":"text"}}},
{"data":{"values":[{"x":46,"x2":523,"y":1087,"y2":1106}]},"mark":{"type":"rect","fill":"#c4e6bd"},"encoding":{"x2":{"field":"x2"},"y2":{"field":"y2"}}},
{"data":{"values":[{"x":46,"x2":523,"y":1087},{"x":46,"x2":523,"y":1106}]},"mark":{"type":"rule","stroke":"#333","strokeWidth":2},"encoding":{"x2":{"field":"x2"}}},
{"data":{"values":[{"x":46,"y":1087,"y2":1142}]},"mark":{"type":"rule","stroke":"#333","strokeWidth":2},"encoding":{"y2":{"field":"y2"}}}
]
},
{
"encoding":{
"x":{"field":"res","type":"quantitative","scale":{"domain":[4.402,77.29],"nice":false,"zero":false},"axis":null}
},
"layer":[
{"data":{"values":[{"res":9.56,"text":"10"}]},"mark":{"type":"text","font":"Liberation Mono","fontWeight":"bold","fontSize":14.5,"fill":"#2b5ea8"},"encoding":{"text":{"field":"text"},"y":{"datum":1097,"type":"quantitative","scale":{"domain":[1003,1142],"reverse":true,"nice":false,"zero":false},"axis":null}}},
{"data":{"name":"cResidues"},"mark":{"type":"text","font":"Liberation Mono","fontWeight":"bold","fontSize":15,"fill":"#d42a2a"},"encoding":{"text":{"field":"aa"},"y":{"datum":1118,"type":"quantitative","scale":{"domain":[1003,1142],"reverse":true,"nice":false,"zero":false},"axis":null}}},
{"data":{"name":"cResidues"},"mark":{"type":"point","shape":"M-1,-0.9H1V-0.05H-1Z","filled":true,"stroke":"#222","strokeWidth":0.6,"size":94,"opacity":1},"encoding":{"y":{"datum":1134,"type":"quantitative","scale":{"domain":[1003,1142],"reverse":true,"nice":false,"zero":false},"axis":null},"fill":{"field":"top","type":"nominal","scale":{"domain":["hit","miss"],"range":["#d42a2a","#bdbdbd"]},"legend":null}}},
{"data":{"name":"cResidues"},"mark":{"type":"point","shape":"M-1,0.05H1V0.9H-1Z","filled":true,"stroke":"#222","strokeWidth":0.6,"size":94,"opacity":1},"encoding":{"y":{"datum":1134,"type":"quantitative","scale":{"domain":[1003,1142],"reverse":true,"nice":false,"zero":false},"axis":null},"fill":{"field":"bottom","type":"nominal","scale":{"domain":["hit","miss"],"range":["#d42a2a","#bdbdbd"]},"legend":null}}}
]
}
]
}
]
}
